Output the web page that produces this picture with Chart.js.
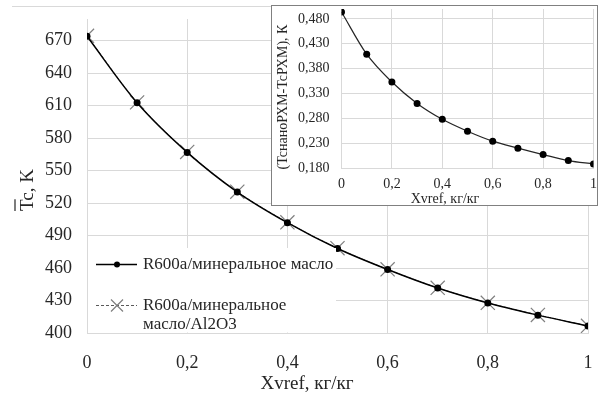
<!DOCTYPE html>
<html>
<head>
<meta charset="utf-8">
<script src="https://cdn.jsdelivr.net/npm/chart.js@4.4.1/dist/chart.umd.min.js"></script>
<style>
  body { margin: 0; background: #fff; }
  #wrap { position: relative; width: 601px; height: 401px; }
  #mainChart { position: absolute; left: 0; top: 0; }
  #insetChart { position: absolute; left: 271px; top: 5px; }
</style>
</head>
<body>
<div id="wrap">
  <canvas id="mainChart" width="601" height="401"></canvas>
  <canvas id="insetChart" width="327" height="201"></canvas>
</div>
<script>
// массовая доля хладагента
let xref = [0, 0.1, 0.2, 0.3, 0.4, 0.5, 0.6, 0.7, 0.8, 0.9, 1];
// Tc, K
let tcBase = [674.0, 612.6, 566.8, 530.2, 501.9, 478.0, 458.6, 441.5, 427.7, 416.5, 406.4];
let tcNano = [674.5, 613.0, 567.2, 530.5, 502.2, 478.3, 458.8, 441.7, 427.9, 416.7, 406.6];
// разница TcнаноРХМ - TcРХМ, K
let tcDiff = [0.494, 0.409, 0.353, 0.310, 0.278, 0.254, 0.234, 0.220, 0.207, 0.195, 0.188];

let mainYTicks = [400, 430, 460, 490, 520, 550, 580, 610, 640, 670];
let insetYTicks = [0.18, 0.23, 0.28, 0.33, 0.38, 0.43, 0.48];
let xTicks = [0, 0.2, 0.4, 0.6, 0.8, 1];

let legendNames = ['R600a/минеральное масло', ['R600a/минеральное', 'масло/Al2O3']];

const serif = '"Liberation Serif", "Times New Roman", serif';
const textColor = '#262626';
const gridColor = '#d9d9d9';

function pts(ys) {
    return xref.map((x, i) => ({ x: x, y: ys[i] }));
}

function fmtX(v) {
    if (v === 0 || v === 1) return String(v);
    return v.toFixed(1).replace('.', ',');
}

// подписи осей и легенда основного графика
const mainDecor = {
    id: 'mainDecor',
    afterDraw(chart) {
        const ctx = chart.ctx;
        ctx.save();
        // верхняя линия рамки
        ctx.strokeStyle = gridColor;
        ctx.lineWidth = 1;
        ctx.beginPath();
        ctx.moveTo(12, 6.5); ctx.lineTo(272, 6.5);
        ctx.stroke();

        ctx.fillStyle = textColor;
        // ось X
        ctx.font = '19px ' + serif;
        ctx.textAlign = 'center';
        ctx.textBaseline = 'middle';
        ctx.fillText('Xvref, кг/кг', 307, 384);

        // ось Y с чертой над T
        ctx.translate(33, 190);
        ctx.rotate(-Math.PI / 2);
        ctx.textAlign = 'center';
        ctx.textBaseline = 'alphabetic';
        ctx.fillText('Tc, K', 0, 0);
        const full = ctx.measureText('Tc, K').width;
        const tW = ctx.measureText('T').width;
        ctx.strokeStyle = textColor;
        ctx.lineWidth = 1.2;
        ctx.beginPath();
        ctx.moveTo(-full / 2, -18);
        ctx.lineTo(-full / 2 + tW, -18);
        ctx.stroke();
        ctx.restore();

        // легенда
        ctx.save();
        ctx.fillStyle = '#fff';
        ctx.fillRect(88, 248, 248, 84.5);
        ctx.font = '17px ' + serif;
        ctx.textAlign = 'left';
        ctx.textBaseline = 'middle';

        ctx.strokeStyle = '#000';
        ctx.lineWidth = 1.5;
        ctx.beginPath();
        ctx.moveTo(96, 264.5); ctx.lineTo(137, 264.5);
        ctx.stroke();
        ctx.fillStyle = '#000';
        ctx.beginPath();
        ctx.arc(117, 264.5, 3, 0, Math.PI * 2);
        ctx.fill();
        ctx.fillStyle = textColor;
        ctx.fillText(legendNames[0], 143, 265);

        ctx.strokeStyle = '#595959';
        ctx.lineWidth = 1;
        ctx.setLineDash([3, 2]);
        ctx.beginPath();
        ctx.moveTo(96, 305.5); ctx.lineTo(137, 305.5);
        ctx.stroke();
        ctx.setLineDash([]);
        ctx.strokeStyle = '#7f7f7f';
        ctx.lineWidth = 1.2;
        ctx.beginPath();
        ctx.moveTo(111, 299.5); ctx.lineTo(123, 311.5);
        ctx.moveTo(123, 299.5); ctx.lineTo(111, 311.5);
        ctx.stroke();
        ctx.fillStyle = textColor;
        ctx.fillText(legendNames[1][0], 143, 306);
        ctx.fillText(legendNames[1][1], 143, 325);
        ctx.restore();
    }
};

let mainChart = new Chart(document.getElementById('mainChart').getContext('2d'), {
    type: 'line',
    data: {
        datasets: [
            {
                label: 'R600a/минеральное масло',
                data: pts(tcBase),
                borderColor: '#000',
                borderWidth: 1.5,
                backgroundColor: '#000',
                pointRadius: 3.5,
                pointBorderWidth: 0,
                cubicInterpolationMode: 'monotone',
                order: 1
            },
            {
                label: 'R600a/минеральное масло/Al2O3',
                data: pts(tcNano),
                borderColor: '#595959',
                borderWidth: 1,
                borderDash: [3, 2],
                pointStyle: 'crossRot',
                pointRadius: 10,
                pointBorderColor: '#7f7f7f',
                pointBorderWidth: 1.2,
                cubicInterpolationMode: 'monotone',
                order: 2
            }
        ]
    },
    options: {
        responsive: false,
        animation: false,
        layout: { padding: { left: 0, top: 19, right: 13, bottom: 0 } },
        plugins: { legend: { display: false }, tooltip: { enabled: false } },
        scales: {
            x: {
                type: 'linear',
                min: 0,
                max: 1,
                afterBuildTicks: s => { s.ticks = xTicks.map(v => ({ value: v })); },
                afterFit: s => { s.height = 68; s.paddingLeft = 0; s.paddingRight = 0; },
                grid: { color: gridColor, drawTicks: false },
                border: { color: gridColor },
                ticks: {
                    padding: 19,
                    color: textColor,
                    font: { family: serif, size: 18 },
                    callback: v => fmtX(v)
                }
            },
            y: {
                min: 400,
                max: 690,
                afterBuildTicks: s => { s.ticks = mainYTicks.map(v => ({ value: v })); },
                afterFit: s => { s.width = 87; s.paddingTop = 0; s.paddingBottom = 0; },
                grid: { color: gridColor, drawTicks: false },
                border: { color: gridColor },
                ticks: {
                    padding: 15,
                    color: textColor,
                    font: { family: serif, size: 18 },
                    callback: v => String(v)
                }
            }
        }
    },
    plugins: [mainDecor]
});

// рамка, фон и подписи осей вставки
const insetDecor = {
    id: 'insetDecor',
    beforeDraw(chart) {
        const ctx = chart.ctx;
        ctx.save();
        ctx.fillStyle = '#fff';
        ctx.fillRect(0, 0, chart.width, chart.height);
        ctx.restore();
    },
    afterDraw(chart) {
        const ctx = chart.ctx;
        ctx.save();
        ctx.fillStyle = textColor;
        ctx.font = '14px ' + serif;
        ctx.textAlign = 'center';
        ctx.textBaseline = 'middle';
        ctx.fillText('Xvref, кг/кг', 174, 194);
        ctx.translate(16, 92);
        ctx.rotate(-Math.PI / 2);
        ctx.textBaseline = 'alphabetic';
        ctx.fillText('(TcнаноРХМ-TcРХМ), К', 0, 0);
        ctx.restore();
        ctx.save();
        ctx.strokeStyle = '#808080';
        ctx.lineWidth = 1;
        ctx.strokeRect(0.5, 0.5, chart.width - 1, chart.height - 1);
        ctx.restore();
    }
};

let insetChart = new Chart(document.getElementById('insetChart').getContext('2d'), {
    type: 'line',
    data: {
        datasets: [
            {
                data: pts(tcDiff),
                borderColor: '#262626',
                borderWidth: 1.2,
                backgroundColor: '#000',
                pointRadius: 3.5,
                pointBorderWidth: 0,
                cubicInterpolationMode: 'monotone'
            }
        ]
    },
    options: {
        responsive: false,
        animation: false,
        layout: { padding: { left: 0, top: 2, right: 4.5, bottom: 0 } },
        plugins: { legend: { display: false }, tooltip: { enabled: false } },
        scales: {
            x: {
                type: 'linear',
                min: 0,
                max: 1,
                afterBuildTicks: s => { s.ticks = xTicks.map(v => ({ value: v })); },
                afterFit: s => { s.height = 38; s.paddingLeft = 0; s.paddingRight = 0; },
                grid: { color: gridColor, drawTicks: false },
                border: { color: gridColor },
                ticks: {
                    padding: 8,
                    color: textColor,
                    font: { family: serif, size: 14 },
                    callback: v => fmtX(v)
                }
            },
            y: {
                min: 0.18,
                max: 0.5,
                afterBuildTicks: s => { s.ticks = insetYTicks.map(v => ({ value: v })); },
                afterFit: s => { s.width = 70.5; s.paddingTop = 0; s.paddingBottom = 0; },
                grid: { color: gridColor, drawTicks: false },
                border: { color: gridColor },
                ticks: {
                    padding: 12,
                    color: textColor,
                    font: { family: serif, size: 14 },
                    callback: v => v.toFixed(3).replace('.', ',')
                }
            }
        }
    },
    plugins: [insetDecor]
});
</script>
</body>
</html>
